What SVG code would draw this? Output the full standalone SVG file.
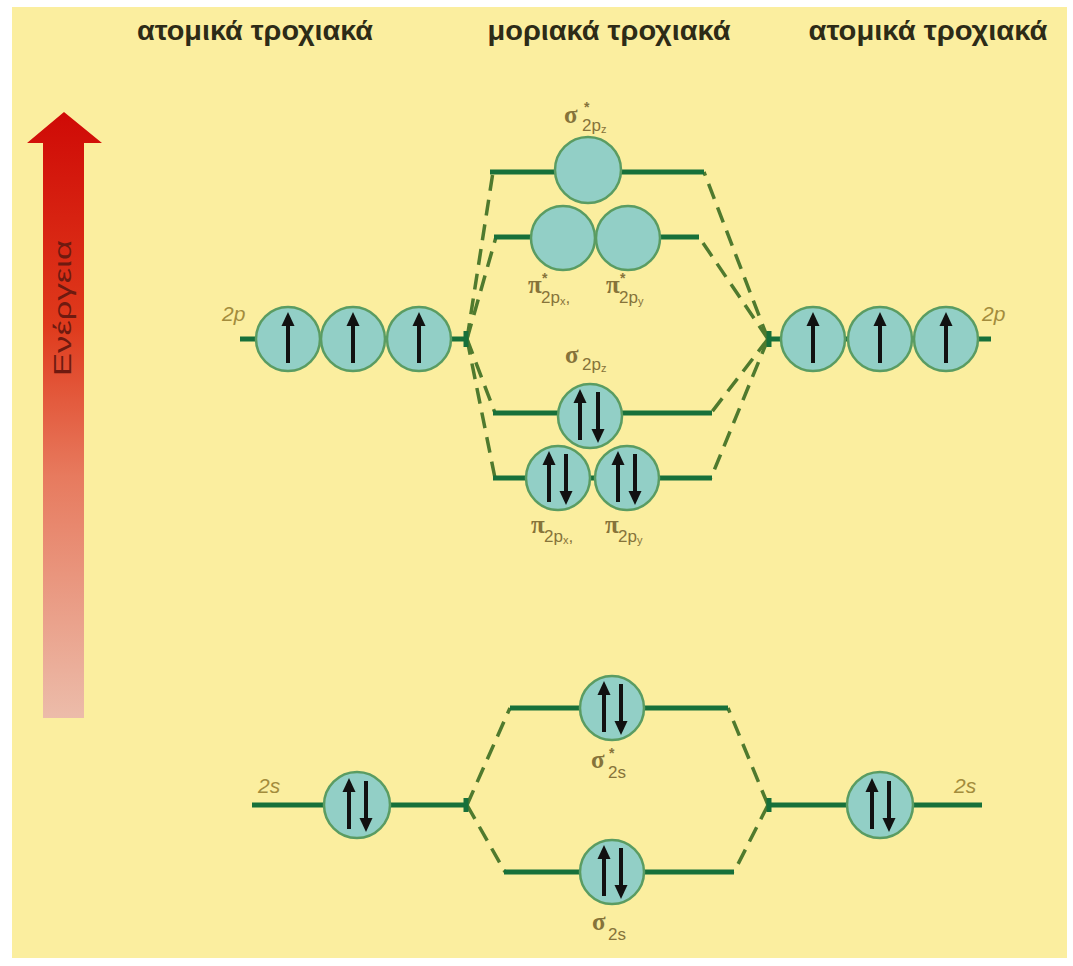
<svg xmlns="http://www.w3.org/2000/svg" width="1073" height="966" viewBox="0 0 1073 966">
<style>
.lvl{stroke:#17703a;stroke-width:5;fill:none;stroke-linecap:butt}
.orb{fill:#92cfc6;stroke:#5a9c62;stroke-width:2.5}
.dash{stroke:#4f7a2e;stroke-width:3.5;fill:none;stroke-dasharray:16 9}
.hdr{font-family:"Liberation Sans",Arial,sans-serif;font-size:28px;font-weight:bold;fill:#2d2b17}
.ao{font-family:"Liberation Sans",Arial,sans-serif;font-size:21px;font-style:italic;fill:#a38c3c}
.mo{font-family:"Liberation Serif","DejaVu Serif",serif;font-size:25px;font-weight:bold;fill:#86733a}
.sub{font-family:"Liberation Sans",Arial,sans-serif;font-size:17px;font-weight:normal;fill:#86733a}
.ss{font-size:11px}
.sup{font-family:"Liberation Sans",Arial,sans-serif;font-size:14px;font-weight:bold;fill:#86733a}
</style>
<defs>
<linearGradient id="eg" x1="0" y1="112" x2="0" y2="718" gradientUnits="userSpaceOnUse">
<stop offset="0" stop-color="#cf0a06"/>
<stop offset="0.35" stop-color="#df3a1c"/>
<stop offset="0.6" stop-color="#e77a5e"/>
<stop offset="1" stop-color="#ecbcaa"/>
</linearGradient>
<g id="up"><line x1="0" y1="24" x2="0" y2="-14" stroke="#111" stroke-width="4"/><polygon points="-6.5,-13 6.5,-13 0,-27" fill="#111"/></g>
<g id="dn"><line x1="0" y1="-24" x2="0" y2="14" stroke="#111" stroke-width="4"/><polygon points="-6.5,13 6.5,13 0,27" fill="#111"/></g>
</defs>
<rect width="1073" height="966" fill="#ffffff"/>
<rect x="12" y="7" width="1055" height="951" fill="#fbee9f"/>

<g id="headers">
<text class="hdr" x="255" y="40" text-anchor="middle" textLength="236" lengthAdjust="spacingAndGlyphs">ατομικά τροχιακά</text>
<text class="hdr" x="609" y="40" text-anchor="middle" textLength="243" lengthAdjust="spacingAndGlyphs">μοριακά τροχιακά</text>
<text class="hdr" x="928" y="40" text-anchor="middle" textLength="239" lengthAdjust="spacingAndGlyphs">ατομικά τροχιακά</text>
</g>

<g id="energy">
<polygon points="43,143 27,143 64,112 102,143 84,143 84,718 43,718" fill="url(#eg)"/>
<text transform="translate(71,308) rotate(-90)" text-anchor="middle" font-family="Liberation Sans,Arial,sans-serif" font-size="24" fill="#6e1a10" textLength="136" lengthAdjust="spacingAndGlyphs">Ενέργεια</text>
</g>

<g id="connectors">
<path class="dash" d="M467,339 L493,172"/>
<path class="dash" d="M467,339 L496,237"/>
<path class="dash" d="M467,339 L495,413"/>
<path class="dash" d="M467,339 L495,478"/>
<path class="dash" d="M768,339 L704,172"/>
<path class="dash" d="M768,339 L699,237"/>
<path class="dash" d="M768,339 L711,413"/>
<path class="dash" d="M768,339 L711,478"/>
<path class="dash" d="M467,805 L510,708"/>
<path class="dash" d="M467,805 L505,872"/>
<path class="dash" d="M768,805 L728,708"/>
<path class="dash" d="M768,805 L734,872"/>
</g>

<g id="ao-2p-left">
<line class="lvl" x1="240" y1="339" x2="467" y2="339"/>
<line class="lvl" x1="466" y1="331" x2="466" y2="347" stroke-width="3"/>
<circle class="orb" cx="288" cy="339" r="32"/>
<circle class="orb" cx="353" cy="339" r="32"/>
<circle class="orb" cx="419" cy="339" r="32"/>
<use href="#up" x="288" y="339"/>
<use href="#up" x="353" y="339"/>
<use href="#up" x="419" y="339"/>
<text class="ao" x="222" y="321">2p</text>
</g>

<g id="ao-2p-right">
<line class="lvl" x1="768" y1="339" x2="991" y2="339"/>
<line class="lvl" x1="769" y1="331" x2="769" y2="347" stroke-width="3"/>
<circle class="orb" cx="813" cy="339" r="32"/>
<circle class="orb" cx="880" cy="339" r="32"/>
<circle class="orb" cx="946" cy="339" r="32"/>
<use href="#up" x="813" y="339"/>
<use href="#up" x="880" y="339"/>
<use href="#up" x="946" y="339"/>
<text class="ao" x="982" y="321">2p</text>
</g>

<g id="mo-sigma-star-2pz">
<line class="lvl" x1="490" y1="172" x2="704" y2="172"/>
<circle class="orb" cx="588" cy="170" r="33"/>
<text class="mo" x="564" y="123">σ</text>
<text class="sup" x="584" y="112">*</text>
<text class="sub" x="582" y="131">2p<tspan class="ss" dy="2">z</tspan></text>
</g>

<g id="mo-pi-star-2p">
<line class="lvl" x1="494" y1="237" x2="699" y2="237"/>
<circle class="orb" cx="563" cy="238" r="32"/>
<circle class="orb" cx="628" cy="238" r="32"/>
<text class="mo" x="528" y="293">π</text>
<text class="sup" x="542" y="283">*</text>
<text class="sub" x="541" y="303">2p<tspan class="ss" dy="2">x</tspan><tspan dy="-2">,</tspan></text>
<text class="mo" x="606" y="293">π</text>
<text class="sup" x="620" y="283">*</text>
<text class="sub" x="619" y="303">2p<tspan class="ss" dy="2">y</tspan></text>
</g>

<g id="mo-sigma-2pz">
<line class="lvl" x1="493" y1="413" x2="712" y2="413"/>
<circle class="orb" cx="590" cy="416" r="32"/>
<use href="#up" x="580" y="416"/>
<use href="#dn" x="598" y="416"/>
<text class="mo" x="565" y="363">σ</text>
<text class="sub" x="582" y="370">2p<tspan class="ss" dy="2">z</tspan></text>
</g>

<g id="mo-pi-2p">
<line class="lvl" x1="493" y1="478" x2="712" y2="478"/>
<circle class="orb" cx="558" cy="478" r="32"/>
<circle class="orb" cx="627" cy="478" r="32"/>
<use href="#up" x="549" y="478"/>
<use href="#dn" x="566" y="478"/>
<use href="#up" x="618" y="478"/>
<use href="#dn" x="635" y="478"/>
<text class="mo" x="531" y="533">π</text>
<text class="sub" x="544" y="542">2p<tspan class="ss" dy="2">x</tspan><tspan dy="-2">,</tspan></text>
<text class="mo" x="605" y="533">π</text>
<text class="sub" x="618" y="542">2p<tspan class="ss" dy="2">y</tspan></text>
</g>

<g id="ao-2s-left">
<line class="lvl" x1="252" y1="805" x2="467" y2="805"/>
<line class="lvl" x1="466" y1="798" x2="466" y2="812" stroke-width="3"/>
<circle class="orb" cx="357" cy="805" r="33"/>
<use href="#up" x="349" y="805"/>
<use href="#dn" x="366" y="805"/>
<text class="ao" x="258" y="793">2s</text>
</g>

<g id="ao-2s-right">
<line class="lvl" x1="768" y1="805" x2="982" y2="805"/>
<line class="lvl" x1="769" y1="798" x2="769" y2="812" stroke-width="3"/>
<circle class="orb" cx="880" cy="805" r="33"/>
<use href="#up" x="872" y="805"/>
<use href="#dn" x="889" y="805"/>
<text class="ao" x="954" y="793">2s</text>
</g>

<g id="mo-sigma-star-2s">
<line class="lvl" x1="510" y1="708" x2="728" y2="708"/>
<circle class="orb" cx="612" cy="708" r="32"/>
<use href="#up" x="604" y="708"/>
<use href="#dn" x="621" y="708"/>
<text class="mo" x="591" y="768">σ</text>
<text class="sup" x="609" y="758">*</text>
<text class="sub" x="608" y="778">2s</text>
</g>

<g id="mo-sigma-2s">
<line class="lvl" x1="504" y1="872" x2="734" y2="872"/>
<circle class="orb" cx="612" cy="872" r="32"/>
<use href="#up" x="604" y="872"/>
<use href="#dn" x="621" y="872"/>
<text class="mo" x="592" y="930">σ</text>
<text class="sub" x="608" y="940">2s</text>
</g>
</svg>
